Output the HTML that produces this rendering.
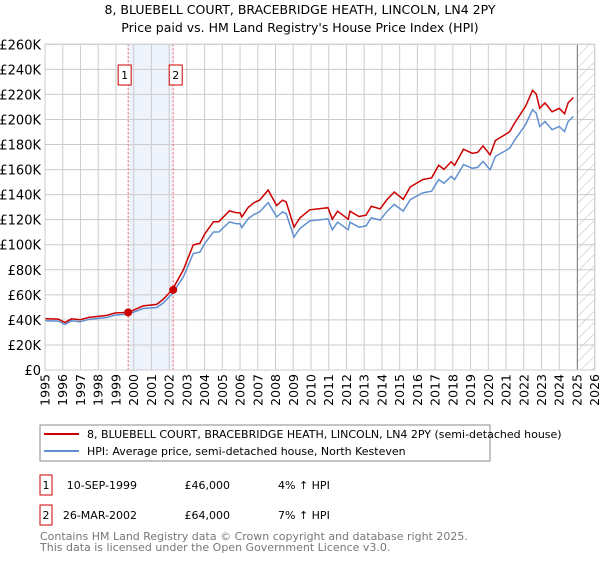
<!DOCTYPE html>
<html><head><meta charset="utf-8"><style>
body{margin:0;background:#fff;width:600px;height:560px;overflow:hidden;font-family:"DejaVu Sans","Liberation Sans",sans-serif;}
svg text{font-family:"DejaVu Sans","Liberation Sans",sans-serif;}
</style></head><body>
<svg id="chart" width="600" height="560" xmlns="http://www.w3.org/2000/svg">
<defs><pattern id="hatch" patternUnits="userSpaceOnUse" width="8" height="8" patternTransform="rotate(45)"><line x1="0" y1="0" x2="0" y2="8" stroke="#bbb" stroke-width="1"/></pattern></defs>
<text x="300" y="14" text-anchor="middle" font-size="12.5">8, BLUEBELL COURT, BRACEBRIDGE HEATH, LINCOLN, LN4 2PY</text>
<text x="300" y="32" text-anchor="middle" font-size="12.5">Price paid vs. HM Land Registry's House Price Index (HPI)</text>
<g id="plot"></g>
<g>
<rect x="40" y="425" width="450" height="36" fill="#fff" stroke="#888"/>
<line x1="44" y1="434" x2="79" y2="434" stroke="#cc0000" stroke-width="2"/>
<text x="87" y="438" font-size="11">8, BLUEBELL COURT, BRACEBRIDGE HEATH, LINCOLN, LN4 2PY (semi-detached house)</text>
<line x1="44" y1="451" x2="79" y2="451" stroke="#6090d0" stroke-width="2"/>
<text x="87" y="455" font-size="11">HPI: Average price, semi-detached house, North Kesteven</text>
</g>
<g font-size="11">
<rect x="40" y="475" width="12" height="20" fill="#fff" stroke="#cc0000"/>
<text x="46" y="489" text-anchor="middle">1</text>
<text x="137" y="489" text-anchor="end">10-SEP-1999</text>
<text x="230" y="489" text-anchor="end">£46,000</text>
<text x="278" y="489">4% ↑ HPI</text>
<rect x="40" y="505" width="12" height="20" fill="#fff" stroke="#cc0000"/>
<text x="46" y="519" text-anchor="middle">2</text>
<text x="137" y="519" text-anchor="end">26-MAR-2002</text>
<text x="230" y="519" text-anchor="end">£64,000</text>
<text x="278" y="519">7% ↑ HPI</text>
</g>
<text x="40" y="540" font-size="11" fill="#777">Contains HM Land Registry data © Crown copyright and database right 2025.</text>
<text x="40" y="551" font-size="11" fill="#777">This data is licensed under the Open Government Licence v3.0.</text>
</svg>
<script>
const yTicks=[0,20,40,60,80,100,120,140,160,180,200,220,240,260];
const xYears=[1995,1996,1997,1998,1999,2000,2001,2002,2003,2004,2005,2006,2007,2008,2009,2010,2011,2012,2013,2014,2015,2016,2017,2018,2019,2020,2021,2022,2023,2024,2025,2026];
const hpiYears=[1995.0,1995.75,1996.13,1996.5,1996.97,1997.45,1998.48,1998.95,1999.7,2000.54,2001.3,2001.67,2002.18,2002.8,2003.36,2003.74,2004.0,2004.5,2004.8,2005.4,2005.8,2006.0,2006.1,2006.46,2006.8,2007.1,2007.59,2008.06,2008.4,2008.6,2009.04,2009.37,2009.93,2010.96,2011.2,2011.5,2012.1,2012.2,2012.7,2013.1,2013.4,2013.9,2014.3,2014.7,2015.2,2015.6,2016.3,2016.8,2017.2,2017.5,2017.9,2018.1,2018.6,2019.1,2019.4,2019.7,2020.1,2020.4,2020.9,2021.2,2021.5,2022.1,2022.5,2022.7,2022.9,2023.2,2023.6,2024.0,2024.3,2024.5,2024.8];
const hpiValues=[39.3,39,36.4,39.3,38.5,40.3,41.9,43.8,44.6,49.1,49.9,53.6,61,74.3,92.9,94.2,100.9,110.2,110.2,118.2,116.8,116.8,113.7,120.8,124.3,126.2,133.6,122.2,126.2,124.8,106.2,112.9,119,120.6,112,118,112,118,114,115,121.6,119.7,126.8,132.2,126.8,136,141.4,142.7,152,149,154.6,152,164,161,161.7,166.5,159.8,170.5,174.5,177,183.8,195.8,207.8,205,194.4,198.4,191.8,194.4,190.4,198.4,202.4];
const priceValues=[41,40.6,37.9,40.9,40.1,41.9,43.6,45.5,46,51.2,52.4,56.5,64,79.8,99.8,101.2,108.4,118.4,118.4,127,125.5,125.5,122.2,129.8,133.6,135.6,143.6,131.3,135.6,134.1,114.1,121.3,127.9,129.6,120.4,126.8,120.4,126.8,122.5,123.6,130.7,128.6,136.3,142.1,136.3,146.2,152,153.4,163.4,160.1,166.2,163.4,176.3,173,173.8,178.9,171.7,183.2,187.5,190.2,197.5,210.4,223.3,220.3,208.9,213.2,206.1,208.9,204.6,213.2,217.5];
const saleYears=[1999.69,2002.23];
const saleValues=[46,64];
const saleLabels=["1","2"];
const x0=45,x1=594.7,yb=370,yt=44.3;
const X=y=>x0+(y-1995)/(2026-1995)*(x1-x0);
const Y=v=>yb-v/260*(yb-yt);
const NS="http://www.w3.org/2000/svg";
const g=document.getElementById('plot');
function mk(t,a,p){const e=document.createElementNS(NS,t);for(const k in a)e.setAttribute(k,a[k]);(p||g).appendChild(e);return e;}
let band=mk('rect',{x:X(saleYears[0]),y:yt,width:X(saleYears[1])-X(saleYears[0]),height:yb-yt,fill:'#eef3fc'});


let hat=mk('rect',{x:X(2025.03),y:yt,width:x1-X(2025.03),height:yb-yt,fill:'url(#hatch)'});


yTicks.forEach(v=>{
 let l=mk('line',{x1:x0,x2:x1,y1:Y(v),y2:Y(v),stroke:'#ccc','stroke-width':1});
 
 
 let t=mk('text',{x:x0-4,y:Y(v)+5,'text-anchor':'end','font-size':13});
 
 
 t.textContent=v===0?'£0':'£'+v+'K';
});
xYears.forEach(yr=>{
 let l=mk('line',{x1:X(yr),x2:X(yr),y1:yt,y2:yb,stroke:'#ccc','stroke-width':1});
 
 
 let tx=X(yr)+4.5, ty=yb+4;
 let t=mk('text',{x:tx,y:ty,'text-anchor':'end','font-size':12.5,transform:'rotate(-90 '+tx+' '+ty+')'});
 
 
 t.textContent=yr;
});
let nl=mk('line',{x1:X(2025.03),x2:X(2025.03),y1:yt,y2:yb,stroke:'#888','stroke-width':1});


saleYears.forEach((yr,i)=>{
 let l=mk('line',{x1:X(yr),x2:X(yr),y1:yt,y2:yb,stroke:'#f06060','stroke-width':1,'stroke-dasharray':'2,2'});
 
 
});
function path(xs,vs){return xs.map((x,i)=>(i?'L':'M')+X(x).toFixed(1)+','+Y(vs[i]).toFixed(1)).join('');}
let hp=mk('path',{d:path(hpiYears,hpiValues),fill:'none',stroke:'#6090d0','stroke-width':1.5});


let pp=mk('path',{d:path(hpiYears,priceValues),fill:'none',stroke:'#cc0000','stroke-width':1.5});


saleYears.forEach((yr,i)=>{
 let c=mk('circle',{cx:X(yr),cy:Y(saleValues[i]),r:4,fill:'#cc0000'});
 
 
 let r=mk('rect',{x:X(yr)-(i===0?10:4),y:65,width:13,height:20,fill:'#fff',stroke:'#cc0000'});
 
 
 let t=mk('text',{x:X(yr)-(i===0?10:4)+6.5,y:79,'text-anchor':'middle','font-size':11});
 
 
 t.textContent=saleLabels[i];
});
let fr=mk('rect',{x:x0,y:yt,width:x1-x0,height:yb-yt,fill:'none',stroke:'#ccc'});


</script>
</body></html>
